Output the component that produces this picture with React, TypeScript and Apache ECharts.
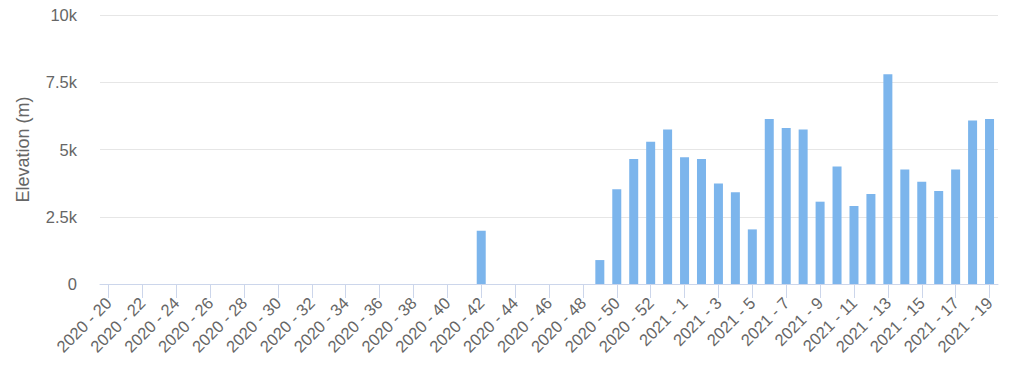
import React, { useEffect, useRef } from "react";
import * as echarts from "echarts";

const categories: string[] = [
  "2020 - 20", "2020 - 21", "2020 - 22", "2020 - 23", "2020 - 24", "2020 - 25", "2020 - 26", "2020 - 27",
  "2020 - 28", "2020 - 29", "2020 - 30", "2020 - 31", "2020 - 32", "2020 - 33", "2020 - 34", "2020 - 35",
  "2020 - 36", "2020 - 37", "2020 - 38", "2020 - 39", "2020 - 40", "2020 - 41", "2020 - 42", "2020 - 43",
  "2020 - 44", "2020 - 45", "2020 - 46", "2020 - 47", "2020 - 48", "2020 - 49", "2020 - 50", "2020 - 51",
  "2020 - 52", "2020 - 53",
  "2021 - 1", "2021 - 2", "2021 - 3", "2021 - 4", "2021 - 5", "2021 - 6", "2021 - 7", "2021 - 8",
  "2021 - 9", "2021 - 10", "2021 - 11", "2021 - 12", "2021 - 13", "2021 - 14", "2021 - 15", "2021 - 16",
  "2021 - 17", "2021 - 18", "2021 - 19",
];

const elevation2020: number[] = [
  0, 0, 0, 0, 0, 0, 0, 0,
  0, 0, 0, 0, 0, 0, 0, 0,
  0, 0, 0, 0, 0, 0, 1980, 0,
  0, 0, 0, 0, 0, 890, 3520, 4650,
  5290, 5740,
];

const elevation2021: number[] = [
  4710, 4650, 3740, 3410, 2030, 6130, 5800, 5740,
  3060, 4370, 2900, 3350, 7800, 4260, 3800, 3460,
  4260, 6080, 6130,
];

const yTicks: number[] = [0, 2500, 5000, 7500, 10000];
const yTickLabels: string[] = ["0", "2.5k", "5k", "7.5k", "10k"];

const values = [...elevation2020, ...elevation2021];

export default function App() {
  const ref = useRef<HTMLDivElement>(null);
  useEffect(() => {
    if (!ref.current) return;
    const chart = echarts.init(ref.current, undefined, { renderer: "svg" });
    const font = "Liberation Sans, Arial, sans-serif";
    chart.setOption({
      animation: false,
      grid: { left: 100, right: 26, top: 15, bottom: 89, containLabel: false },
      xAxis: {
        type: "category",
        data: categories,
        boundaryGap: true,
        axisLine: { show: true, lineStyle: { color: "#ccd6eb", width: 1 } },
        axisTick: { show: true, alignWithLabel: true, interval: 1, length: 14, lineStyle: { color: "#ccd6eb" } },
        axisLabel: {
          interval: 1,
          rotate: 45,
          margin: 16,
          color: "#666666",
          fontSize: 16.5,
          fontFamily: font,
        },
      },
      yAxis: {
        type: "value",
        min: yTicks[0],
        max: yTicks[yTicks.length - 1],
        interval: 2500,
        name: "Elevation (m)",
        nameLocation: "middle",
        nameGap: 68,
        nameTextStyle: { color: "#666666", fontSize: 18, fontFamily: font },
        axisLine: { show: false },
        axisTick: { show: false },
        splitLine: { lineStyle: { color: "#e6e6e6", width: 1 } },
        axisLabel: {
          margin: 23,
          color: "#666666",
          fontSize: 16.5,
          fontFamily: font,
          formatter: (v: number) => {
            const i = yTicks.indexOf(v);
            return i >= 0 ? yTickLabels[i] : String(v);
          },
        },
      },
      series: [
        {
          type: "bar",
          data: values,
          barWidth: 9,
          itemStyle: { color: "#7cb5ec" },
        },
      ],
    });
    return () => chart.dispose();
  }, []);
  return (
    <div
      ref={ref}
      style={{ position: "absolute", left: 0, top: 0, width: 1024, height: 373, background: "#ffffff" }}
    />
  );
}
